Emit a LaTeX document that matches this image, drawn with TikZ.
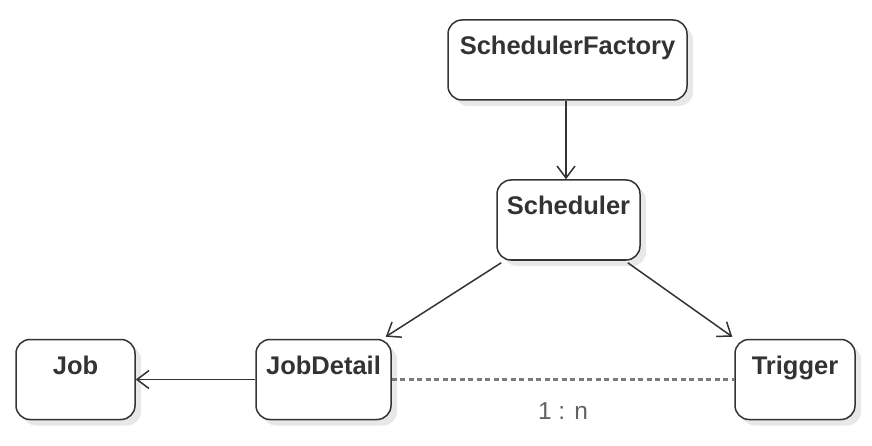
\documentclass[tikz,border=0pt]{standalone}
\usepackage{fontspec}
\setmainfont{Liberation Sans}
\usetikzlibrary{arrows.meta,shadows}
\definecolor{ink}{HTML}{333333}
\definecolor{dots}{HTML}{7A7A7A}
\def\boxfont{\fontsize{25.5}{30}\selectfont\bfseries}

\begin{document}
\begin{tikzpicture}[x=1pt,y=-1pt,
  box/.style={draw=ink, line width=1.5pt, rounded corners=14pt, fill=white,
    minimum height=80pt, inner sep=4pt, text height=31pt, text depth=41pt,
    text=ink, font=\boxfont,
    drop shadow={shadow xshift=6pt, shadow yshift=-6pt, fill=black!9, opacity=1}},
  link/.style={draw=ink, line width=1.5pt, -{Straight Barb[length=12pt,width=18pt,line width=1.5pt]}}]
\useasboundingbox (0,0) rectangle (872,446);

\node[box, minimum width=239pt] (factory) at (567.5,60) {SchedulerFactory};
\node[box, minimum width=143pt] (sched) at (568.5,220) {Scheduler};
\node[box, minimum width=119pt] (job) at (75.5,379.5) {Job};
\node[box, minimum width=135pt] (detail) at (323.5,379.5) {JobDetail};
\node[box, minimum width=120pt] (trigger) at (795,379.5) {Trigger};

\draw[link] (factory.south -| 566,0) to (sched.north -| 566,0);
\draw[link] ([xshift=5pt,yshift=-2pt]sched.south west) to ([xshift=-6pt,yshift=2pt]detail.north east);
\draw[link] ([xshift=-13pt,yshift=-2pt]sched.south east) to ([xshift=-2pt,yshift=2pt]trigger.north west);
\draw[link] (detail.west) to (job.east);

\draw[draw=dots, line width=2.6pt, dash pattern=on 5pt off 3.5pt] (detail.east) to (trigger.west);
\node[text=dots!80!black, font=\fontsize{24.5}{30}\selectfont] (ratio) at (563,411) {1 : n};
\end{tikzpicture}
\end{document}
